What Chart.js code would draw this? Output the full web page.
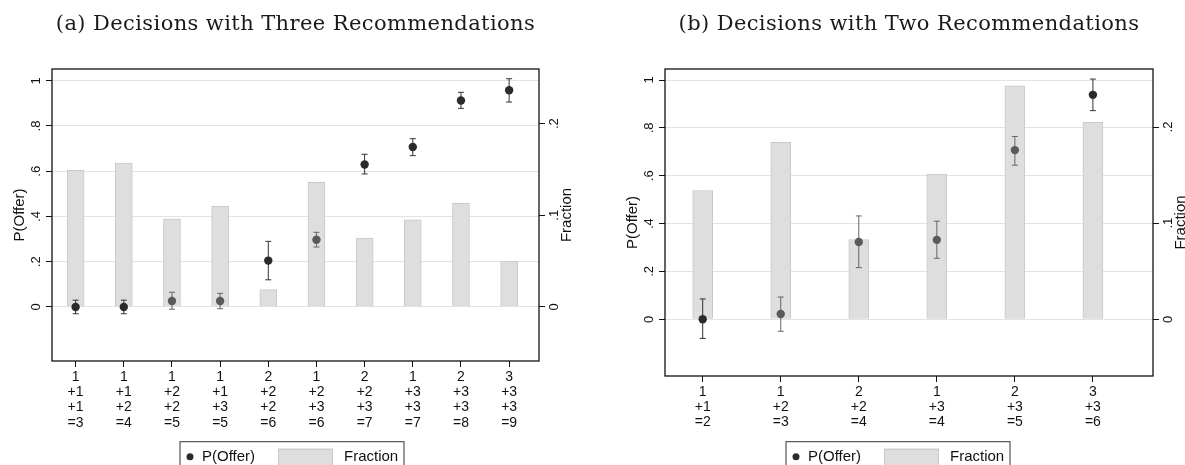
<!DOCTYPE html>
<html>
<head>
<meta charset="utf-8">
<script src="https://cdn.jsdelivr.net/npm/chart.js@4.4.1/dist/chart.umd.min.js"></script>
<style>
    html, body { margin: 0; padding: 0; background: #fff; }
    .wrap { position: relative; width: 1185px; height: 465px; overflow: hidden; }
    #chartA { position: absolute; left: 0; top: 0; }
    #chartB { position: absolute; left: 592px; top: 0; }
</style>
</head>
<body>
<div class="wrap">
    <canvas id="chartA" width="592" height="465"></canvas>
    <canvas id="chartB" width="593" height="465"></canvas>
</div>
<script>
// Panel (a): three recommendations
const labelsThree = [
    ['1', '+1', '+1', '=3'], ['1', '+1', '+2', '=4'], ['1', '+2', '+2', '=5'],
    ['1', '+1', '+3', '=5'], ['2', '+2', '+2', '=6'], ['1', '+2', '+3', '=6'],
    ['2', '+2', '+3', '=7'], ['1', '+3', '+3', '=7'], ['2', '+3', '+3', '=8'],
    ['3', '+3', '+3', '=9']
];
const fractionThree = [0.149, 0.157, 0.096, 0.110, 0.019, 0.136, 0.075, 0.095, 0.113, 0.050];
const offerThree = [0.0, 0.0, 0.026, 0.026, 0.205, 0.297, 0.630, 0.707, 0.913, 0.958];
const offerHiThree = [0.030, 0.030, 0.065, 0.060, 0.290, 0.330, 0.675, 0.744, 0.949, 1.009];
const offerLoThree = [-0.030, -0.030, -0.010, -0.008, 0.120, 0.265, 0.588, 0.669, 0.878, 0.906];

// Panel (b): two recommendations
const labelsTwo = [
    ['1', '+1', '=2'], ['1', '+2', '=3'], ['2', '+2', '=4'],
    ['1', '+3', '=4'], ['2', '+3', '=5'], ['3', '+3', '=6']
];
const fractionTwo = [0.134, 0.184, 0.083, 0.151, 0.243, 0.205];
const offerTwo = [0.0, 0.022, 0.323, 0.332, 0.707, 0.938];
const offerHiTwo = [0.085, 0.093, 0.432, 0.410, 0.764, 1.004];
const offerLoTwo = [-0.080, -0.050, 0.216, 0.255, 0.644, 0.872];

// Axis ticks
const offerTicks = [0, 0.2, 0.4, 0.6, 0.8, 1];
const fractionTicks = [0, 0.1, 0.2];

const DARK = '#2b2b2b';
const GRAY = '#5a5a5a';

Chart.defaults.font.family = '"Liberation Sans", Arial, sans-serif';
Chart.defaults.color = '#111';

// Stata style: ".2" instead of "0.2"
const stataNum = (v) => {
    const s = String(Math.round(v * 100) / 100);
    return s.startsWith('0.') ? s.slice(1) : s;
};

// Error bars drawn under the markers
const errorBars = {
    id: 'errorBars',
    beforeDatasetDraw(chart, args) {
        const ds = chart.data.datasets[args.index];
        if (!ds.errHi) return;
        const { ctx } = chart;
        const xs = chart.scales.x;
        const ys = chart.scales.y;
        ctx.save();
        ctx.lineWidth = 1;
        ds.data.forEach((pt, i) => {
            const x = xs.getPixelForValue(pt.x);
            const yHi = ys.getPixelForValue(ds.errHi[i]);
            const yLo = ys.getPixelForValue(ds.errLo[i]);
            ctx.strokeStyle = ds.pointBackgroundColor[i] === DARK ? '#333' : '#666';
            ctx.beginPath();
            ctx.moveTo(x, yHi); ctx.lineTo(x, yLo);
            ctx.moveTo(x - 3, yHi); ctx.lineTo(x + 3, yHi);
            ctx.moveTo(x - 3, yLo); ctx.lineTo(x + 3, yLo);
            ctx.stroke();
        });
        ctx.restore();
    }
};

// Panel title, plot frame, right axis title and the boxed legend
const frame = {
    id: 'frame',
    afterDraw(chart, args, opts) {
        const { ctx, chartArea: a } = chart;
        const midX = (a.left + a.right) / 2;
        ctx.save();
        ctx.fillStyle = '#1a1a1a';
        ctx.font = '21px "DejaVu Serif", serif';
        ctx.letterSpacing = '0.4px';
        ctx.textAlign = 'center';
        ctx.textBaseline = 'middle';
        ctx.fillText(opts.title, midX, 25);
        ctx.restore();

        ctx.save();
        ctx.strokeStyle = '#111';
        ctx.lineWidth = 1.3;
        ctx.strokeRect(a.left, a.top, a.right - a.left, a.bottom - a.top);

        // "Fraction" reads bottom-to-top like the left title
        ctx.fillStyle = '#111';
        ctx.font = '15px "Liberation Sans", Arial, sans-serif';
        ctx.textAlign = 'center';
        ctx.textBaseline = 'middle';
        ctx.translate(a.right + 28, (a.top + a.bottom) / 2);
        ctx.rotate(-Math.PI / 2);
        ctx.fillText('Fraction', 0, 0);
        ctx.restore();

        // Legend
        const boxW = 224;
        const left = midX + opts.shift - boxW / 2;
        const top = chart.height - 23.3;
        ctx.save();
        ctx.strokeStyle = '#333';
        ctx.lineWidth = 1;
        ctx.strokeRect(left, top, boxW, 40);
        const midY = top + 15;
        ctx.fillStyle = DARK;
        ctx.beginPath();
        ctx.arc(left + 10, midY, 3.5, 0, Math.PI * 2);
        ctx.fill();
        ctx.fillStyle = '#111';
        ctx.font = '15px "Liberation Sans", Arial, sans-serif';
        ctx.textBaseline = 'middle';
        ctx.fillText('P(Offer)', left + 22, midY);
        ctx.fillStyle = '#dedede';
        ctx.strokeStyle = '#c8c8c8';
        ctx.fillRect(left + 98, top + 7, 55, 20);
        ctx.strokeRect(left + 98.5, top + 7.5, 54, 20);
        ctx.fillStyle = '#111';
        ctx.fillText('Fraction', left + 164, midY);
        ctx.restore();
    }
};

const buildChart = (canvasId, cfg) => {
    return new Chart(document.getElementById(canvasId), {
        type: 'bar',
        data: {
            datasets: [
                {
                    type: 'scatter',
                    label: 'P(Offer)',
                    data: cfg.offer.map((v, i) => ({ x: i + 1, y: v })),
                    errHi: cfg.hi,
                    errLo: cfg.lo,
                    xAxisID: 'x',
                    yAxisID: 'y',
                    pointRadius: 4.2,
                    pointBorderWidth: 0,
                    pointBackgroundColor: cfg.dotColors,
                    order: 0
                },
                {
                    type: 'bar',
                    label: 'Fraction',
                    data: cfg.fraction.map((v, i) => ({ x: i + 1, y: v })),
                    xAxisID: 'x',
                    yAxisID: 'y2',
                    backgroundColor: '#dedede',
                    borderColor: '#c8c8c8',
                    borderWidth: 1,
                    barThickness: cfg.barWidth,
                    order: 1
                }
            ]
        },
        options: {
            responsive: false,
            animation: false,
            events: [],
            layout: { padding: { left: cfg.padLeft, right: 0, top: 69, bottom: cfg.padBottom } },
            plugins: {
                legend: { display: false },
                tooltip: { enabled: false },
                title: { display: false },
                frame: { shift: cfg.legendShift, title: cfg.title }
            },
            scales: {
                x: {
                    type: 'linear',
                    offset: false,
                    min: cfg.xMin,
                    max: cfg.xMax,
                    afterBuildTicks: (axis) => {
                        axis.ticks = cfg.labels.map((_, i) => ({ value: i + 1 }));
                    },
                    afterFit: (scale) => { scale.height = cfg.xHeight; },
                    ticks: {
                        autoSkip: false,
                        maxRotation: 0,
                        padding: 2,
                        font: { size: 14, lineHeight: 1.1 },
                        callback: (v) => cfg.labels[Math.round(v) - 1]
                    },
                    grid: { offset: false, drawOnChartArea: false, tickLength: 6, tickColor: '#111' },
                    border: { display: false }
                },
                y: {
                    position: 'left',
                    min: cfg.yMin,
                    max: cfg.yMax,
                    afterBuildTicks: (axis) => {
                        axis.ticks = offerTicks.map(v => ({ value: v }));
                    },
                    afterFit: (scale) => { scale.width = 52; },
                    ticks: {
                        minRotation: 90,
                        maxRotation: 90,
                        crossAlign: 'center',
                        padding: 4,
                        font: { size: 13 },
                        callback: (v) => stataNum(v)
                    },
                    grid: { color: '#e3e3e3', lineWidth: 1, tickLength: 6, tickColor: '#111' },
                    border: { display: false },
                    title: {
                        display: true,
                        text: 'P(Offer)',
                        font: { size: 15 },
                        padding: { top: 11, bottom: 0 }
                    }
                },
                y2: {
                    position: 'right',
                    min: cfg.y2Min,
                    max: cfg.y2Max,
                    afterBuildTicks: (axis) => {
                        axis.ticks = fractionTicks.map(v => ({ value: v }));
                    },
                    afterFit: (scale) => { scale.width = cfg.y2Width; },
                    ticks: {
                        minRotation: 90,
                        maxRotation: 90,
                        crossAlign: 'center',
                        padding: 4,
                        font: { size: 13 },
                        callback: (v) => stataNum(v)
                    },
                    grid: { drawOnChartArea: false, tickLength: 6, tickColor: '#111' },
                    border: { display: false }
                }
            }
        },
        plugins: [errorBars, frame]
    });
};

buildChart('chartA', {
    title: '(a) Decisions with Three Recommendations',
    labels: labelsThree,
    fraction: fractionThree,
    offer: offerThree,
    hi: offerHiThree,
    lo: offerLoThree,
    dotColors: [DARK, DARK, GRAY, GRAY, DARK, GRAY, DARK, DARK, DARK, DARK],
    barWidth: 17,
    padLeft: 0,
    xMin: 0.51, xMax: 10.62,
    yMin: -0.239, yMax: 1.052,
    y2Min: -0.0589, y2Max: 0.2595,
    y2Width: 53,
    xHeight: 72,
    padBottom: 32,
    legendShift: -3.5
});

buildChart('chartB', {
    title: '(b) Decisions with Two Recommendations',
    labels: labelsTwo,
    fraction: fractionTwo,
    offer: offerTwo,
    hi: offerHiTwo,
    lo: offerLoTwo,
    dotColors: [DARK, GRAY, GRAY, GRAY, GRAY, DARK],
    barWidth: 20,
    padLeft: 21,
    xMin: 0.517, xMax: 6.77,
    yMin: -0.237, yMax: 1.046,
    y2Min: -0.059, y2Max: 0.2604,
    y2Width: 32,
    xHeight: 57,
    padBottom: 32,
    legendShift: -11
});
</script>
</body>
</html>
